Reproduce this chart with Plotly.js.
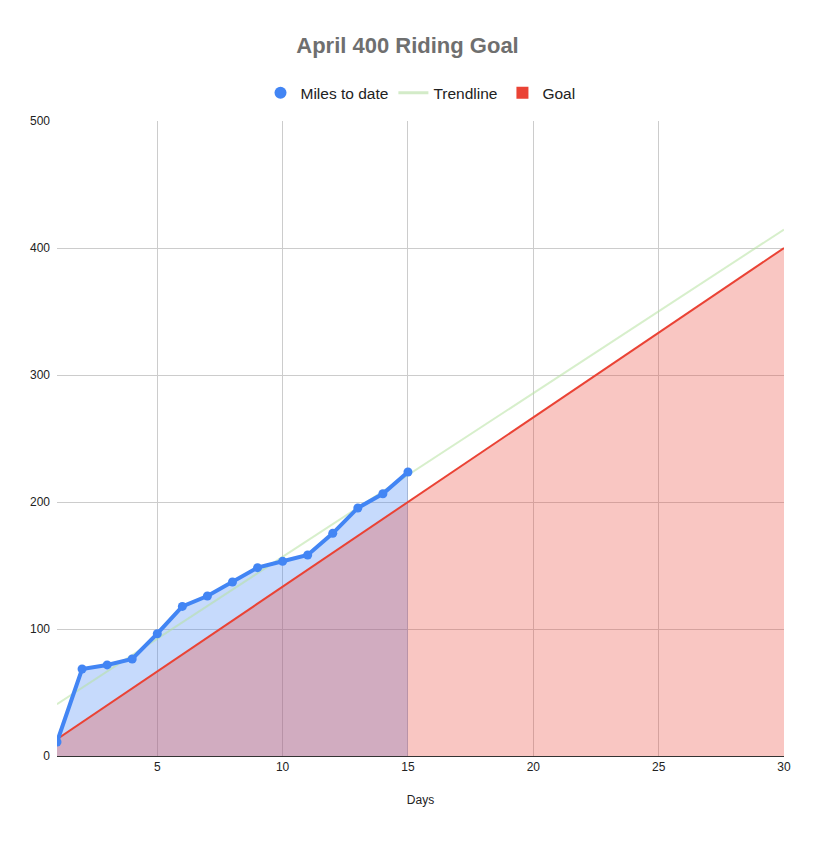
<!DOCTYPE html>
<html>
<head>
<meta charset="utf-8">
<script src="https://cdn.plot.ly/plotly-3.0.1.min.js"></script>
<style>html,body{margin:0;padding:0;background:#fff}#chart{width:815px;height:849px}</style>
</head>
<body>
<div id="chart"></div>
<script>
var days = [1,2,3,4,5,6,7,8,9,10,11,12,13,14,15];
var milesToDate = [11,68.5,71.7,76.4,96.3,117.8,126,137,148.3,153.3,158.3,175.3,195.3,206.5,223.6];
var goalDays = [1,30];
var goalMiles = [13.3,400];
var trendDays = [1,30];

// least-squares trendline of the miles series (as the source chart does)
var n = days.length, sx=0, sy=0, sxx=0, sxy=0;
for (var i=0;i<n;i++){sx+=days[i];sy+=milesToDate[i];sxx+=days[i]*days[i];sxy+=days[i]*milesToDate[i];}
var slope = (n*sxy - sx*sy)/(n*sxx - sx*sx);
var intercept = (sy - slope*sx)/n;
var trendMiles = trendDays.map(function(d){return intercept + slope*d;});

var font = "Arial, 'Liberation Sans', sans-serif";
var traces = [
  {x: days, y: milesToDate, type:'scatter', mode:'lines', fill:'tozeroy',
   fillcolor:'rgba(66,133,244,0.3)', line:{color:'rgba(0,0,0,0)', width:0}, showlegend:false, hoverinfo:'skip'},
  {x: goalDays, y: goalMiles, type:'scatter', mode:'lines', fill:'tozeroy',
   fillcolor:'rgba(234,67,53,0.3)', line:{color:'#ea4335', width:2}, showlegend:false, hoverinfo:'skip'},
  {x: trendDays, y: trendMiles, type:'scatter', mode:'lines',
   line:{color:'rgba(183,225,161,0.55)', width:2}, showlegend:false, hoverinfo:'skip'},
  {x: days, y: milesToDate, type:'scatter', mode:'lines+markers',
   line:{color:'#4285f4', width:4}, marker:{color:'#4285f4', size:9}, showlegend:false},
  {x:[null], y:[null], type:'scatter', mode:'markers', name:'Miles to date',
   marker:{color:'#4285f4', size:12, symbol:'circle'}},
  {x:[null], y:[null], type:'scatter', mode:'lines', name:'Trendline',
   line:{color:'#d3ebc8', width:3}},
  {x:[null], y:[null], type:'scatter', mode:'markers', name:'Goal',
   marker:{color:'#ea4335', size:12, symbol:'square'}}
];

var layout = {
  width: 815, height: 849,
  margin: {l:57, r:31, t:121, b:93},
  paper_bgcolor:'#fff', plot_bgcolor:'#fff',
  font: {family: font, size: 12, color:'#222'},
  title: {text:'<b>April 400 Riding Goal</b>', x:0.5, xanchor:'center', y:0.947, yanchor:'middle',
          font:{family:font, size:22, color:'#6f6f6f', weight:700}},
  showlegend: true,
  legend: {orientation:'h', x:0.5, xanchor:'center', y:1.044, yanchor:'middle',
           font:{family:font, size:15.5, color:'#222'}, itemwidth:30, tracegroupgap:0},
  xaxis: {range:[1,30], tick0:0, dtick:5, showgrid:true, gridcolor:'#cccccc', gridwidth:1,
          zeroline:false, showline:true, linecolor:'#333', linewidth:1,
          ticks:'', tickfont:{size:12, color:'#222'},
          title:{text:'Days', font:{size:12, color:'#222'}, standoff:22}},
  yaxis: {range:[0,500], dtick:100, showgrid:true, gridcolor:'#cccccc', gridwidth:1,
          zeroline:false, showline:false, ticks:'', ticklabelstandoff:6,
          tickfont:{size:12, color:'#222'}}
};

Plotly.newPlot('chart', traces, layout, {displayModeBar:false, staticPlot:true});
</script>
</body>
</html>
